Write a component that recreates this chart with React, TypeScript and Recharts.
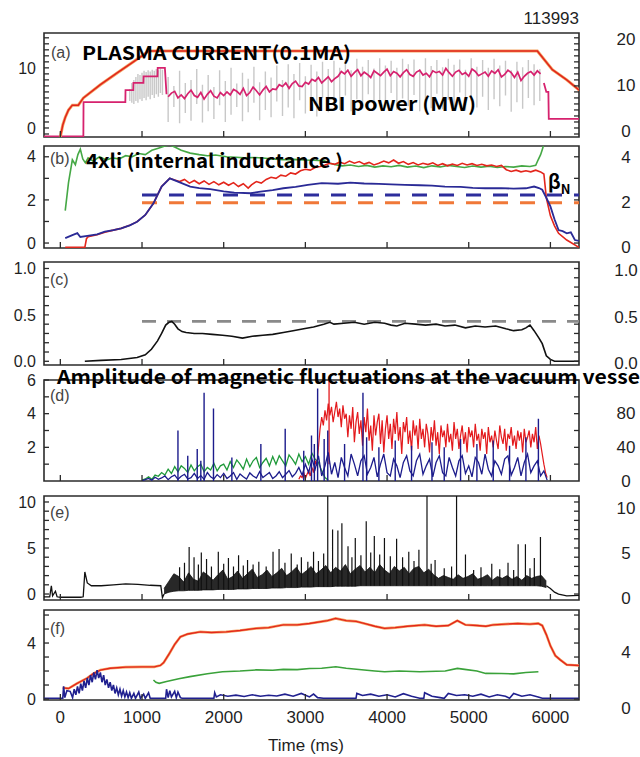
import React from 'react'
import { ComposedChart, Line, Area, XAxis, YAxis, ReferenceArea } from 'recharts'

// shared time axis (ms)
const timeDomain: [number, number] = [-200, 6350]
const timeTicks = [0, 1000, 2000, 3000, 4000, 5000, 6000]

// (a) plasma current (0.1 MA) and NBI power (MW)
const plasmaCurrent = [[0, -1.5], [30, 0.5], [61, 1.8], [100, 3.0], [147, 3.8], [220, 3.8], [282, 5.0], [490, 7.2], [700, 9.2], [894, 11.0], [1000, 12.0], [1080, 12.8], [5840, 12.8], [6024, 9.7], [6200, 8.0], [6360, 6.2]]
const nbiRamp = [[-200, -1.4], [282, -1.4], [284, 4.3], [796, 4.3], [798, 6.3], [893, 6.3], [895, 7.5], [1017, 7.5], [1019, 8.6], [1190, 8.6], [1192, 10.0], [1280, 10.0], [1300, 5.6]]
const nbiNoiseStart = 1320
const nbiNoiseStep = 40
const nbiNoise = [
  5.2, 5.8, 6.1, 5.0, 5.5, 4.9, 5.7, 6.3, 5.4, 5.1, 5.9, 4.8, 5.6, 6.2, 5.3, 5.0, 5.9, 5.4,
  6.0, 5.5, 6.4, 6.1, 5.6, 6.6, 5.4, 5.9, 6.8, 6.2, 5.5, 6.3, 6.9, 6.0, 6.5,
  6.4, 7.2, 6.9, 7.5, 6.6, 7.4, 7.8, 7.0, 6.9, 7.6,
  7.3, 8.1, 7.8, 8.4, 7.5, 8.0, 8.5, 7.7, 8.2, 8.6,
  9.4, 9.0, 9.6, 8.6, 9.2, 9.7, 8.7, 9.3, 8.9, 8.4, 9.5, 9.1, 8.7, 9.3, 9.8,
  8.7, 9.4, 9.1, 8.5, 9.2, 9.7, 8.9, 8.6, 9.3, 9.6, 8.8, 9.1, 8.5, 9.5, 9.2,
  9.4, 8.8, 9.9, 9.2, 8.6, 9.3, 9.6, 8.9, 9.2, 8.6, 9.8, 9.4, 8.7, 9.0, 9.3,
  8.6, 9.5, 9.1, 9.7, 8.5, 8.9, 9.6, 9.2, 8.4, 9.3, 7.9, 8.6, 9.1, 9.4, 8.8, 9.5, 9.0,
]
const nbiTail = [[5920, 7.5], [5950, 6.0], [5975, 6.0], [5980, 1.5], [6400, 1.5]]
// individual beam modulation [t, low, high]
const nbiBeams = [
  [850, 4.5, 6.5], [875, 4.2, 7.5], [900, 4.0, 8.0], [925, 4.5, 8.5], [950, 4.2, 9.0], [975, 4.8, 8.8], [1000, 4.5, 9.2], [1025, 5.0, 9.5], [1050, 4.6, 9.3], [1075, 5.2, 9.6], [1100, 4.8, 9.4], [1125, 5.5, 9.7], [1150, 5.0, 9.5], [1175, 5.6, 9.8], [1200, 5.2, 9.6], [1225, 5.8, 9.9], [1250, 5.5, 9.7],
  [1320, 1.0, 8.5], [1390, 3.5, 7.0], [1460, 0.8, 9.5], [1530, 2.5, 7.5], [1600, 1.2, 8.0], [1670, 4.0, 9.8], [1740, 0.9, 7.2], [1810, 2.8, 8.8], [1880, 1.5, 6.8], [1950, 3.8, 9.6], [2020, 1.0, 7.8], [2090, 2.2, 10.0], [2160, 3.5, 7.4], [2230, 1.1, 9.2], [2300, 2.6, 8.2], [2370, 4.2, 10.2], [2440, 1.3, 7.6], [2510, 3.0, 9.4], [2580, 1.8, 8.4], [2650, 4.4, 10.4], [2720, 2.0, 8.0], [2790, 3.4, 10.6], [2860, 1.6, 9.0], [2930, 4.6, 10.8], [3000, 2.4, 8.6], [3070, 3.8, 10.5], [3140, 1.9, 9.4], [3210, 5.0, 11.0], [3280, 2.6, 9.8], [3350, 4.2, 11.2], [3420, 3.0, 10.0], [3490, 5.4, 11.4], [3560, 2.8, 9.6], [3630, 4.8, 11.5], [3700, 3.2, 10.2], [3770, 5.6, 11.3], [3840, 2.9, 9.9], [3910, 4.5, 11.6], [3980, 3.4, 10.4], [4050, 5.8, 11.2], [4120, 3.0, 10.0], [4190, 4.9, 11.5], [4260, 3.6, 10.6], [4330, 5.5, 11.4], [4400, 2.8, 9.8], [4470, 4.4, 11.6], [4540, 3.3, 10.3], [4610, 5.7, 11.3], [4680, 3.1, 10.1], [4750, 4.7, 11.5], [4820, 3.5, 10.5], [4890, 5.9, 11.4], [4960, 2.9, 9.7], [5030, 4.6, 11.6], [5100, 3.4, 10.2], [5170, 5.2, 11.3], [5240, 3.0, 10.0], [5310, 4.8, 11.5], [5380, 3.6, 10.4], [5450, 5.4, 11.2], [5520, 2.7, 9.6], [5590, 4.3, 11.0], [5660, 3.2, 10.1], [5730, 5.0, 11.3], [5800, 3.8, 10.6], [5870, 4.5, 9.8],
]

// (b) 4 x li, beta_N (red / blue) and limits
const internalInductance = [[60, 1.5], [100, 2.8], [147, 3.86], [184, 3.63], [215, 4.1], [245, 4.35], [275, 3.9], [306, 3.72], [340, 3.95], [400, 3.8], [480, 4.0], [560, 3.85], [640, 3.95], [720, 3.9], [800, 4.05], [880, 4.0], [960, 4.15], [1040, 4.1], [1120, 4.3], [1200, 4.4], [1280, 4.5], [1340, 4.55], [1400, 4.45], [1480, 4.3], [1590, 4.17], [1700, 4.1], [1800, 4.05], [1900, 4.08], [2035, 4.0], [2150, 3.98], [2250, 3.95], [2380, 3.97], [2480, 3.94], [2600, 3.9], [2720, 3.86], [2850, 3.88], [3000, 3.85], [3100, 3.84], [3225, 3.82], [3300, 3.7], [3370, 3.63], [3450, 3.58], [3550, 3.62], [3650, 3.55], [3750, 3.6], [3850, 3.52], [3950, 3.58], [4050, 3.54], [4150, 3.6], [4250, 3.52], [4350, 3.57], [4450, 3.5], [4550, 3.58], [4650, 3.53], [4750, 3.6], [4850, 3.55], [4950, 3.5], [5050, 3.57], [5150, 3.52], [5250, 3.56], [5350, 3.5], [5450, 3.55], [5550, 3.52], [5650, 3.58], [5750, 3.55], [5820, 3.6], [5850, 3.86], [5880, 4.1], [5900, 4.33], [5930, 4.7]]
const betaRed = [[60, -0.2], [300, -0.2], [320, 0.2], [340, 0.29], [450, 0.38], [545, 0.5], [650, 0.6], [745, 0.68], [850, 0.82], [940, 0.99], [1040, 1.3], [1140, 1.84], [1240, 2.62], [1340, 3.0], [1400, 2.92], [1460, 2.85], [1520, 2.95], [1580, 2.78], [1640, 2.9], [1700, 2.75], [1760, 2.88], [1820, 2.72], [1880, 2.85], [1940, 2.7], [2000, 2.82], [2060, 2.68], [2120, 2.8], [2180, 2.62], [2240, 2.75], [2300, 2.55], [2340, 2.7], [2400, 2.85], [2460, 2.78], [2520, 2.95], [2580, 3.05], [2640, 3.0], [2700, 3.15], [2760, 3.1], [2820, 3.25], [2880, 3.2], [2940, 3.35], [3000, 3.42], [3060, 3.38], [3120, 3.5], [3180, 3.55], [3240, 3.62], [3300, 3.7], [3360, 3.65], [3420, 3.75], [3480, 3.68], [3540, 3.8], [3600, 3.7], [3660, 3.78], [3720, 3.66], [3780, 3.74], [3840, 3.62], [3900, 3.7], [3960, 3.8], [4020, 3.72], [4080, 3.85], [4140, 3.7], [4200, 3.78], [4260, 3.65], [4320, 3.73], [4380, 3.62], [4440, 3.7], [4500, 3.64], [4560, 3.72], [4620, 3.6], [4680, 3.68], [4740, 3.58], [4800, 3.66], [4860, 3.6], [4920, 3.7], [4980, 3.62], [5040, 3.68], [5100, 3.6], [5160, 3.65], [5220, 3.58], [5280, 3.62], [5340, 3.55], [5400, 3.6], [5460, 3.4], [5520, 3.32], [5580, 3.38], [5640, 3.3], [5700, 3.35], [5760, 3.3], [5820, 3.38], [5880, 3.3], [5920, 3.2], [5950, 2.1], [6000, 1.26], [6050, 0.8], [6100, 0.45], [6200, 0.14], [6350, -0.2]]
const betaBlue = [[60, 0.23], [147, 0.37], [208, 0.46], [245, 0.28], [330, 0.33], [450, 0.4], [545, 0.53], [650, 0.6], [745, 0.68], [850, 0.82], [940, 0.99], [1040, 1.3], [1140, 1.84], [1240, 2.62], [1340, 3.0], [1440, 2.85], [1590, 2.62], [1700, 2.55], [1835, 2.5], [2000, 2.4], [2130, 2.34], [2330, 2.31], [2450, 2.38], [2600, 2.45], [2730, 2.54], [2880, 2.6], [3030, 2.7], [3200, 2.78], [3400, 2.75], [3550, 2.8], [3720, 2.76], [3900, 2.74], [4050, 2.72], [4220, 2.7], [4400, 2.68], [4550, 2.66], [4710, 2.62], [4900, 2.6], [5050, 2.56], [5200, 2.54], [5400, 2.55], [5550, 2.52], [5700, 2.54], [5800, 2.62], [5860, 2.55], [5900, 2.47], [5950, 2.1], [6000, 1.7], [6050, 1.1], [6100, 0.6], [6150, 0.55], [6200, 0.45], [6250, 0.5], [6300, 0.14], [6350, 0.1]]
const limitBlue = [[1000, 2.23], [6350, 2.23]]
const limitOrange = [[1000, 1.87], [6350, 1.87]]

// (c)
const traceC = [[300, 0.0], [500, 0.01], [745, 0.02], [940, 0.04], [1040, 0.07], [1115, 0.13], [1190, 0.22], [1240, 0.3], [1290, 0.39], [1330, 0.42], [1365, 0.43], [1400, 0.4], [1440, 0.35], [1490, 0.32], [1540, 0.31], [1640, 0.3], [1740, 0.3], [1860, 0.29], [1985, 0.28], [2100, 0.27], [2230, 0.25], [2350, 0.27], [2480, 0.28], [2600, 0.29], [2730, 0.31], [2850, 0.33], [2980, 0.35], [3100, 0.37], [3225, 0.4], [3300, 0.42], [3350, 0.4], [3470, 0.41], [3600, 0.42], [3720, 0.4], [3850, 0.42], [3970, 0.41], [4050, 0.39], [4120, 0.38], [4220, 0.41], [4350, 0.4], [4470, 0.39], [4600, 0.4], [4710, 0.38], [4830, 0.39], [4960, 0.36], [5080, 0.38], [5200, 0.37], [5330, 0.38], [5455, 0.35], [5550, 0.33], [5650, 0.34], [5700, 0.36], [5750, 0.39], [5800, 0.33], [5860, 0.25], [5900, 0.19], [5950, 0.06], [6000, 0.02], [6050, 0.0], [6350, 0.0]]
const limitC = [[1000, 0.43], [6350, 0.43]]

// (d) magnetic fluctuation amplitudes
const fluctStep = 40
const greenStart = 1000
const fluctGreen = [
  0.05, 0.12, 0.25, 0.1, 0.35, 0.28, 0.5, 0.35, 0.7, 0.45, 0.85,
  0.55, 0.9, 0.75, 0.5, 0.95, 0.6, 0.85, 1.0, 0.55, 0.8, 0.65, 1.05, 0.6, 0.9, 1.0,
  0.65, 1.15, 0.8, 1.25, 1.0, 0.7, 1.3, 0.85, 1.2, 1.4, 0.8, 1.1, 1.35, 0.9, 1.45,
  1.0, 1.5, 1.2, 0.9, 1.55, 1.3, 1.0, 1.6, 1.15, 1.45, 1.0, 1.65, 1.3, 1.1, 0.6, 0.2, 0.05,
]
const blueStart = 1000
const fluctBlue = [
  0.02, 0.08, 0.15, 0.05, 0.22, 0.1, 0.18, 0.3, 0.08, 0.25, 0.35,
  0.1, 0.28, 0.4, 0.12, 0.2, 0.45, 0.15, 0.32, 0.1, 0.5, 0.25, 0.12, 0.38, 0.2, 0.45,
  0.15, 0.3, 0.5, 0.1, 0.42, 0.25, 0.12, 0.48, 0.3, 0.18, 0.55, 0.2, 0.35, 0.5, 0.15,
  0.3, 0.55, 0.2, 0.4, 0.62, 0.25, 0.45, 0.8, 0.35, 1.0, 0.5, 1.3, 0.7,
  1.5, 0.3, 0.9, 1.7, 0.4, 1.1, 0.2, 1.4, 0.8, 0.3, 1.6, 1.0,
  0.3, 1.2, 1.5, 0.4, 0.8, 1.4, 0.25, 1.0, 1.6, 0.5, 0.3, 1.3, 0.9, 0.2, 1.1,
  1.5, 0.6, 0.3, 1.2, 1.6, 0.4, 0.9, 1.3, 0.25, 1.1, 1.5, 0.5, 0.3, 1.4, 0.8,
  0.3, 1.2, 1.5, 0.45, 0.9, 0.25, 1.4, 1.1, 0.4, 1.6, 0.7, 0.3, 1.2, 0.9, 0.4,
  1.3, 1.5, 0.35, 0.8, 1.4, 0.3, 1.1, 1.6, 0.5, 0.9, 1.2, 0.3, 0.6, 0.05,
]
const blueBursts = [[1440, 0, 3.0], [1560, 0, 1.5], [1676, 0, 1.9], [1720, 0, 1.2], [1760, 0, 5.25], [1875, 0, 4.3], [2100, 0, 1.4], [2455, 0, 2.2], [2753, 0, 3.1], [2980, 0, 1.8], [3075, 0, 2.7], [3110, 0, 2.2], [3150, 0, 5.5], [3230, 0, 2.5], [3274, 0, 3.0], [3480, 0, 2.2], [3705, 0, 5.25], [3750, 0, 2.6], [3900, 0, 2.0], [4100, 0, 2.4], [4300, 0, 2.1], [4550, 0, 2.3], [4700, 0, 2.0], [4900, 0, 2.5], [5100, 0, 2.2], [5300, 0, 2.4], [5500, 0, 2.1], [5700, 0, 2.6], [5853, 0, 3.7]]
const redStart = 2920
const redStep = 20
const fluctRed = [
  0.1, 0.3, 0.2, 0.5, 0.15, 0.4, 0.6, 0.3, 0.8, 0.5,
  1.2, 0.9, 2.0, 3.1, 3.8, 3.3, 4.2, 3.6, 4.6, 3.9,
  4.4, 3.5, 4.1, 4.7, 3.8, 4.3, 3.2, 4.5, 3.7, 4.0,
  2.6, 3.9, 3.1, 4.4, 2.3, 3.5, 4.1, 2.8, 3.6, 2.1,
  3.8, 2.9, 4.3, 2.4, 3.3, 1.8, 3.9, 2.7, 3.5, 4.0,
  2.2, 3.6, 1.7, 3.1, 3.9, 2.5, 3.4, 1.9, 3.7, 2.8,
  4.1, 2.4, 3.2, 1.6, 3.5, 2.9, 3.8, 2.2, 3.0, 1.8,
  3.6, 2.7, 3.3, 1.9, 3.7, 2.5, 3.1, 2.0, 3.4, 2.8,
  1.7, 3.2, 2.4, 3.6, 2.1, 2.9, 1.6, 3.3, 2.6, 3.0,
  2.0, 3.4, 2.3, 2.8, 1.8, 3.5, 2.5, 3.1, 1.9, 2.7,
  3.3, 2.2, 2.9, 1.7, 3.2, 2.6, 3.0, 2.0, 3.4, 2.4,
  2.8, 1.8, 3.1, 2.5, 2.9, 1.6, 3.2, 2.3, 2.7, 2.0,
  3.0, 2.4, 1.9, 3.3, 2.6, 2.2, 3.1, 1.8, 2.8, 2.5,
  3.2, 2.1, 2.7, 1.9, 3.0, 2.4, 2.9, 1.7, 3.1, 2.3,
  2.6, 3.0, 2.0, 2.8, 2.3, 3.2, 1.9, 2.7, 2.2, 1.6,
  1.0, 0.5, 0.2,
]
const redBursts = [[3290, 1.0, 6.2]]

// (e)
const traceEPre = [[-200, -0.3], [-130, -0.3], [-110, 0.9], [-95, -0.2], [-60, 0.3], [-40, -0.3], [0, -0.35], [250, -0.35], [280, -0.3], [300, 2.4], [330, 1.2], [380, 0.9], [500, 0.9], [650, 1.0], [800, 1.1], [950, 1.05], [1100, 0.95], [1230, 0.9], [1250, -0.4], [1270, 0.0]]
const traceEBand = [
  [1270, 0.0, 0.6], [1330, 0.2, 1.4], [1390, 0.3, 2.2], [1450, 0.35, 1.9], [1510, 0.35, 1.3], [1570, 0.4, 2.3], [1630, 0.4, 1.6], [1690, 0.4, 1.4], [1750, 0.45, 2.4], [1810, 0.45, 2.0], [1870, 0.45, 1.5],
  [1930, 0.5, 2.1], [1990, 0.5, 2.6], [2050, 0.5, 1.6], [2110, 0.5, 1.9], [2170, 0.55, 2.5], [2230, 0.55, 1.7], [2290, 0.55, 2.2], [2350, 0.6, 2.7], [2410, 0.6, 1.8], [2470, 0.6, 2.1],
  [2530, 0.6, 2.6], [2590, 0.65, 1.9], [2650, 0.65, 2.3], [2710, 0.65, 2.8], [2770, 0.7, 2.0], [2830, 0.7, 2.4], [2890, 0.7, 2.9], [2950, 0.75, 2.1], [3010, 0.75, 2.5], [3070, 0.75, 3.0],
  [3130, 0.8, 2.2], [3190, 0.8, 2.6], [3250, 0.8, 3.1], [3310, 0.8, 2.3], [3370, 0.85, 2.9], [3430, 0.85, 2.5], [3490, 0.85, 3.2], [3550, 0.85, 2.2], [3610, 0.85, 2.7], [3670, 0.9, 3.1],
  [3730, 0.9, 2.4], [3790, 0.9, 2.9], [3850, 0.9, 2.3], [3910, 0.9, 3.2], [3970, 0.9, 2.6], [4030, 0.9, 2.2], [4090, 0.9, 3.0], [4150, 0.9, 2.5], [4210, 0.9, 2.9], [4270, 0.9, 2.2],
  [4330, 0.9, 2.8], [4390, 0.9, 3.0], [4450, 0.9, 2.3], [4510, 0.9, 2.7], [4570, 0.9, 2.1], [4630, 0.9, 1.7], [4690, 0.9, 2.0], [4750, 0.9, 1.8], [4810, 0.9, 1.6], [4870, 0.9, 2.1],
  [4930, 0.9, 1.7], [4990, 0.9, 1.9], [5050, 0.9, 2.2], [5110, 0.9, 1.6], [5170, 0.9, 1.8], [5230, 0.9, 2.1], [5290, 0.9, 1.5], [5350, 0.9, 1.9], [5410, 0.9, 1.7], [5470, 0.9, 2.0],
  [5530, 0.9, 1.6], [5590, 0.9, 1.9], [5650, 0.9, 1.5], [5710, 0.9, 2.0], [5770, 0.9, 1.7], [5830, 0.9, 1.9], [5890, 0.85, 2.0], [5950, 0.7, 1.4],
]
const traceEPost = [[5950, 0.9], [6000, 0.6], [6050, 0.2], [6100, 0.0], [6200, -0.2], [6350, -0.15]]
const traceESpikes = [[1460, 0.4, 2.9], [1520, 0.4, 3.4], [1577, 0.4, 5.1], [1637, 0.4, 4.0], [1690, 0.4, 3.2], [1726, 0.4, 4.5], [1790, 0.45, 3.8], [1850, 0.45, 3.0], [1934, 0.5, 4.6], [2000, 0.5, 3.3], [2058, 0.5, 3.9], [2120, 0.5, 3.0], [2182, 0.55, 4.2], [2240, 0.55, 3.1], [2292, 0.55, 3.7], [2360, 0.6, 3.2], [2430, 0.6, 3.5], [2520, 0.6, 3.0], [2604, 0.65, 4.6], [2678, 0.65, 4.9], [2750, 0.7, 3.4], [2827, 0.7, 4.4], [2900, 0.7, 3.2], [2951, 0.75, 4.0], [3030, 0.75, 3.5], [3100, 0.75, 4.6], [3160, 0.8, 3.6], [3224, 0.8, 4.4], [3274, 0.8, 10.8], [3333, 0.8, 7.0], [3398, 0.85, 6.9], [3447, 0.85, 7.7], [3522, 0.85, 5.2], [3570, 0.85, 4.0], [3611, 0.85, 6.1], [3680, 0.9, 4.2], [3745, 0.9, 7.9], [3800, 0.9, 4.5], [3844, 0.9, 6.3], [3910, 0.9, 4.3], [3968, 0.9, 6.1], [4040, 0.9, 4.1], [4117, 0.9, 6.0], [4190, 0.9, 4.0], [4266, 0.9, 4.6], [4330, 0.9, 3.6], [4390, 0.9, 4.8], [4489, 0.9, 10.8], [4540, 0.9, 3.3], [4588, 0.9, 3.7], [4700, 0.9, 2.8], [4790, 0.9, 3.0], [4851, 0.9, 10.8], [4960, 0.9, 4.3], [5060, 0.9, 2.6], [5150, 0.9, 2.9], [5282, 0.9, 3.3], [5380, 0.9, 2.7], [5481, 0.9, 3.4], [5550, 0.9, 2.6], [5605, 0.9, 5.4], [5694, 0.9, 5.4], [5750, 0.9, 2.8], [5803, 0.9, 3.9], [5878, 0.9, 6.2]]

// (f)
const traceFRed = [[30, 0.8], [100, 0.75], [200, 1.1], [330, 1.5], [400, 1.8], [490, 2.07], [610, 2.2], [800, 2.28], [1000, 2.3], [1150, 2.3], [1225, 2.4], [1265, 2.6], [1330, 3.2], [1400, 3.9], [1470, 4.45], [1560, 4.65], [1715, 4.8], [1850, 4.75], [2030, 4.8], [2200, 4.9], [2400, 5.05], [2550, 5.1], [2730, 5.3], [2900, 5.3], [3050, 5.4], [3270, 5.6], [3370, 5.76], [3500, 5.6], [3620, 5.55], [3720, 5.4], [3850, 5.2], [3970, 5.05], [4100, 5.1], [4250, 5.2], [4460, 5.3], [4600, 5.2], [4750, 5.25], [4860, 5.6], [4960, 5.3], [5100, 5.25], [5210, 5.2], [5300, 5.3], [5450, 5.35], [5600, 5.4], [5750, 5.35], [5850, 5.4], [5900, 5.25], [5950, 4.6], [6000, 3.8], [6060, 3.1], [6120, 2.8], [6200, 2.45], [6350, 2.4]]
const traceFGreen = [[1140, 1.36], [1170, 1.2], [1210, 1.12], [1300, 1.25], [1450, 1.45], [1587, 1.6], [1800, 1.8], [1985, 1.95], [2200, 2.0], [2400, 2.08], [2600, 2.06], [2730, 2.12], [2900, 2.1], [3050, 2.18], [3200, 2.2], [3373, 2.31], [3500, 2.2], [3720, 2.07], [3850, 2.0], [3970, 1.95], [4150, 2.0], [4400, 1.95], [4600, 1.98], [4712, 2.0], [4861, 2.19], [4950, 2.12], [5100, 2.0], [5208, 1.83], [5400, 1.82], [5550, 1.8], [5700, 1.9], [5853, 1.95]]
const traceFBlue = [[-200, 0.05], [30, 0.05], [40, 0.9], [55, 0.1], [80, 0.6], [120, 0.55], [150, 0.1], [170, 0.7], [190, 0.3], [210, 0.9], [230, 0.4], [250, 1.1], [270, 0.6], [290, 1.3], [310, 0.8], [330, 1.5], [350, 1.0], [370, 1.7], [390, 1.2], [410, 1.9], [430, 1.4], [450, 2.07], [470, 1.5], [490, 1.9], [510, 1.2], [530, 1.7], [550, 1.0], [570, 1.4], [590, 0.8], [610, 1.2], [630, 0.6], [650, 1.0], [670, 0.4], [690, 0.8], [710, 0.3], [730, 0.7], [750, 0.2], [770, 0.6], [790, 0.15], [810, 0.5], [830, 0.1], [850, 0.45], [870, 0.05], [900, 0.4], [920, 0.05], [960, 0.5], [980, 0.05], [1020, 0.35], [1040, 0.05], [1080, 0.45], [1100, 0.05], [1290, 0.05], [1300, 0.7], [1320, 0.1], [1340, 0.6], [1360, 0.15], [1400, 0.55], [1420, 0.1], [1440, 0.5], [1470, 0.1], [1490, 0.05], [1880, 0.05], [1890, 0.45], [1910, 0.15], [1960, 0.3], [2050, 0.2], [2150, 0.28], [2250, 0.18], [2350, 0.3], [2450, 0.2], [2550, 0.27], [2650, 0.22], [2750, 0.35], [2850, 0.2], [2950, 0.4], [3050, 0.15], [3100, 0.35], [3150, 0.1], [3220, 0.05], [3620, 0.05], [3630, 0.4], [3700, 0.25], [3800, 0.35], [3900, 0.2], [4000, 0.3], [4100, 0.15], [4200, 0.38], [4300, 0.2], [4400, 0.05], [4450, 0.05], [4460, 0.45], [4550, 0.2], [4650, 0.1], [4700, 0.05], [4750, 0.4], [4850, 0.25], [4950, 0.3], [5050, 0.2], [5150, 0.35], [5250, 0.15], [5350, 0.3], [5450, 0.2], [5500, 0.05], [5550, 0.4], [5650, 0.2], [5750, 0.3], [5850, 0.15], [5900, 0.05], [6350, 0.05]]

// axis tick labels (left / right) and tick marks
const ticksA = [0, 10], ticksAR = [0, 10, 20]
const ticksB = [0, 2, 4], ticksBR = [0, 2, 4]
const ticksC = [0, 0.5, 1], ticksCR = [0, 0.5, 1]
const ticksD = [2, 4, 6], ticksDR = [0, 40, 80]
const ticksE = [0, 5, 10], ticksER = [0, 5, 10]
const ticksF = [0, 4], ticksFR = [0, 4]
const marksA = [-1, 0, 1, 2, 3, 4, 5, 6, 7, 8, 9, 10, 11, 12, 13, 14, 15]
const marksB = [0, 1, 2, 3, 4]
const marksC = [0, 0.1, 0.2, 0.3, 0.4, 0.5, 0.6, 0.7, 0.8, 0.9, 1]
const marksD = [1, 2, 3, 4, 5, 6]
const marksE = [0, 1, 2, 3, 4, 5, 6, 7, 8, 9, 10]
const marksF = [0, 1, 2, 3, 4, 5, 6]

const FRAME = '#2b2b2b'
const TXT = '#1f1f1f'
const TICK_FONT = "'Liberation Sans', Arial, sans-serif"
const NOTE_FONT = "'Noto Sans CJK KR', 'Noto Sans', sans-serif"
const PAD = 12

const pts = (a: number[][]) => a.map(([t, v]) => ({ t, v }))
const onGrid = (start: number, step: number, vals: number[]) => vals.map((v, i) => ({ t: start + i * step, v }))
const segs = (a: number[][]) => a.flatMap(([t, lo, hi]) => [{ t, v: lo }, { t, v: hi }, { t, v: null }])
const band = (a: number[][]) => a.map(([t, lo, hi]) => ({ t, r: [lo, hi] }))
const blank = () => ''

function ln(key: string, data: any[], stroke: string, width = 1.5, extra: any = {}) {
  return (
    <Line key={key} data={data} dataKey="v" xAxisId="x" yAxisId="L" type="linear" stroke={stroke}
      strokeWidth={width} dot={false} activeDot={false} isAnimationActive={false} {...extra} />
  )
}

interface PanelProps {
  top: number
  height: number
  domain: [number, number]
  labels: number[]
  marks: number[]
  rDomain: [number, number]
  rLabels: number[]
  fmt?: (v: number) => string
  rDy?: number
  timeLabels?: boolean
  children: React.ReactNode
}

function Panel({ top, height, domain, labels, marks, rDomain, rLabels, fmt, rDy = 0, timeLabels, children }: PanelProps) {
  const extra = timeLabels ? 30 : 0
  const tickText = { fontSize: 16, fill: TXT, fontFamily: TICK_FONT }
  const tickLine = { stroke: FRAME, strokeWidth: 1.3 }
  const leftFmt = (v: number) => (labels.some((l) => Math.abs(l - v) < 1e-6) ? (fmt ? fmt(v) : String(v)) : '')
  return (
    <div style={{ position: 'absolute', left: 0, top: top - PAD }}>
      <ComposedChart width={640} height={height + 2 * PAD + extra}
        margin={{ top: PAD - 1, right: 0, bottom: timeLabels ? PAD : PAD - 1, left: 0 }}>
        <XAxis xAxisId="x" dataKey="t" type="number" domain={timeDomain} allowDataOverflow ticks={timeTicks}
          height={timeLabels ? 30 : 1} interval={0} axisLine={false} tickLine={tickLine} tickSize={-6}
          tickMargin={timeLabels ? 17 : 0} tickFormatter={timeLabels ? undefined : blank}
          tick={{ fontSize: timeLabels ? 17 : 1, fill: TXT, fontFamily: TICK_FONT }} />
        <XAxis xAxisId="xt" orientation="top" type="number" domain={timeDomain} allowDataOverflow ticks={timeTicks}
          height={1} interval={0} axisLine={false} tickLine={tickLine} tickSize={-6} tickFormatter={blank}
          tick={{ fontSize: 1 }} />
        <YAxis yAxisId="L" type="number" domain={domain} allowDataOverflow ticks={marks} width={44} interval={0}
          axisLine={false} tickLine={tickLine} tickSize={-5} tickMargin={13} tickFormatter={leftFmt} tick={tickText} />
        <YAxis yAxisId="Ra" orientation="right" type="number" domain={domain} allowDataOverflow ticks={marks} width={1}
          interval={0} axisLine={false} tickLine={tickLine} tickSize={-5} tickFormatter={blank} tick={{ fontSize: 1 }} />
        <YAxis yAxisId="Rb" orientation="right" type="number" domain={rDomain} allowDataOverflow ticks={rLabels} width={60}
          interval={0} axisLine={false} tickLine={false} tickSize={0} tickMargin={46} tickFormatter={fmt}
          tick={{ ...tickText, fontSize: 17, textAnchor: 'middle', dy: rDy }} />
        {children}
        <ReferenceArea xAxisId="x" yAxisId="L" x1={timeDomain[0]} x2={timeDomain[1]} y1={domain[0]} y2={domain[1]}
          fill="none" fillOpacity={0} stroke={FRAME} strokeWidth={1.6} ifOverflow="visible" />
      </ComposedChart>
    </div>
  )
}

const one = (v: number) => v.toFixed(1)

export default function App() {
  const noteStyle = { fontFamily: NOTE_FONT, fontWeight: 700, fontSize: 19, fill: '#000' }
  const tagStyle = { fontFamily: "'Liberation Sans Narrow', 'Liberation Sans', sans-serif", fontSize: 16, fill: '#444' }
  return (
    <div style={{ position: 'absolute', left: 0, top: 0, width: 640, height: 757, background: '#fff', overflow: 'hidden' }}>
      <Panel top={33} height={104} domain={[-1.5, 15.8]} labels={ticksA} marks={marksA} rDomain={[-1.3, 21.3]} rLabels={ticksAR}>
        {[
          ln('beams', segs(nbiBeams), '#c8c8c8', 1.4),
          ln('nbi0', pts(nbiRamp), '#d6226e', 1.8),
          ln('nbi1', onGrid(nbiNoiseStart, nbiNoiseStep, nbiNoise), '#d6226e', 1.7),
          ln('nbi2', pts(nbiTail), '#d6226e', 1.8),
          ln('ipHalo', pts(plasmaCurrent), '#f4a463', 3.0),
          ln('ip', pts(plasmaCurrent), '#e0241c', 1.5),
        ]}
      </Panel>
      <Panel top={146} height={102} domain={[-0.23, 4.5]} labels={ticksB} marks={marksB} rDomain={[-0.05, 4.5]} rLabels={ticksBR}>
        {[
          ln('limO', pts(limitOrange), '#f07838', 3, { strokeDasharray: '15 12' }),
          ln('limB', pts(limitBlue), '#2d2d9c', 3, { strokeDasharray: '15 12' }),
          ln('li', pts(internalInductance), '#45a845', 1.6),
          ln('betaR', pts(betaRed), '#e3261c', 1.6),
          ln('betaB', pts(betaBlue), '#2a2a96', 1.8),
        ]}
      </Panel>
      <Panel top={262} height={103} domain={[-0.04, 1.07]} labels={ticksC} marks={marksC} rDomain={[-0.02, 1.09]} rLabels={ticksCR} fmt={one}>
        {[
          ln('limC', pts(limitC), '#8a8a8a', 2.6, { strokeDasharray: '14 11' }),
          ln('c', pts(traceC), '#111', 1.6),
        ]}
      </Panel>
      <Panel top={380} height={101} domain={[0, 6]} labels={ticksD} marks={marksD} rDomain={[0, 118]} rLabels={ticksDR}>
        {[
          ln('dG', onGrid(greenStart, fluctStep, fluctGreen), '#1f9a3a', 1.3),
          ln('dR', onGrid(redStart, redStep, fluctRed), '#e3191c', 1.2),
          ln('dRs', segs(redBursts), '#e3191c', 1.3),
          ln('dB', onGrid(blueStart, fluctStep, fluctBlue), '#1c1c8c', 1.3),
          ln('dBs', segs(blueBursts), '#1c1c8c', 1.4),
        ]}
      </Panel>
      <Panel top={496} height={104} domain={[-0.65, 10.65]} labels={ticksE} marks={marksE} rDomain={[-0.2, 11.3]} rLabels={ticksER}>
        {[
          ln('ePre', pts(traceEPre), '#111', 1.3),
          <Area key="eBand" data={band(traceEBand)} dataKey="r" xAxisId="x" yAxisId="L" type="linear"
            stroke="#111" strokeWidth={0.8} fill="#111" fillOpacity={0.9} dot={false} activeDot={false} isAnimationActive={false} />,
          ln('eSp', segs(traceESpikes), '#111', 1.2),
          ln('ePost', pts(traceEPost), '#111', 1.3),
        ]}
      </Panel>
      <Panel top={610} height={90} domain={[-0.07, 6.36]} labels={ticksF} marks={marksF} rDomain={[-0.07, 6.36]} rLabels={ticksFR} rDy={9} timeLabels>
        {[
          ln('fG', pts(traceFGreen), '#3aa23a', 1.6),
          ln('fRh', pts(traceFRed), '#f4a463', 2.6),
          ln('fR', pts(traceFRed), '#e3261c', 1.4),
          ln('fB', pts(traceFBlue), '#20208f', 1.6),
        ]}
      </Panel>

      <svg width={640} height={757} style={{ position: 'absolute', left: 0, top: 0, pointerEvents: 'none' }}>
        <text x={579} y={24} textAnchor="end" fontSize={17} fontFamily={TICK_FONT} fill={TXT}>113993</text>
        <text x={51} y={58} {...tagStyle}>(a)</text>
        <text x={50} y={164} {...tagStyle}>(b)</text>
        <text x={50} y={285} {...tagStyle}>(c)</text>
        <text x={50} y={401} {...tagStyle}>(d)</text>
        <text x={50} y={518} {...tagStyle}>(e)</text>
        <text x={50} y={634} {...tagStyle}>(f)</text>
        <text x={82} y={60} {...noteStyle} textLength={269} lengthAdjust="spacingAndGlyphs">PLASMA CURRENT(0.1MA)</text>
        <text x={308} y={111} {...noteStyle} textLength={168} lengthAdjust="spacingAndGlyphs">NBI power (MW)</text>
        <text x={86} y={168} {...noteStyle} textLength={257} lengthAdjust="spacingAndGlyphs">4xli (internal inductance )</text>
        <text x={548} y={189} {...noteStyle}>β<tspan fontSize={13} dy={5}>N</tspan></text>
        <text x={57} y={384} {...noteStyle} textLength={583} lengthAdjust="spacingAndGlyphs">Amplitude of magnetic fluctuations at the vacuum vesse</text>
        <text x={306} y={751} textAnchor="middle" fontSize={17} fontFamily={TICK_FONT} fill={TXT}>Time (ms)</text>
      </svg>
    </div>
  )
}
